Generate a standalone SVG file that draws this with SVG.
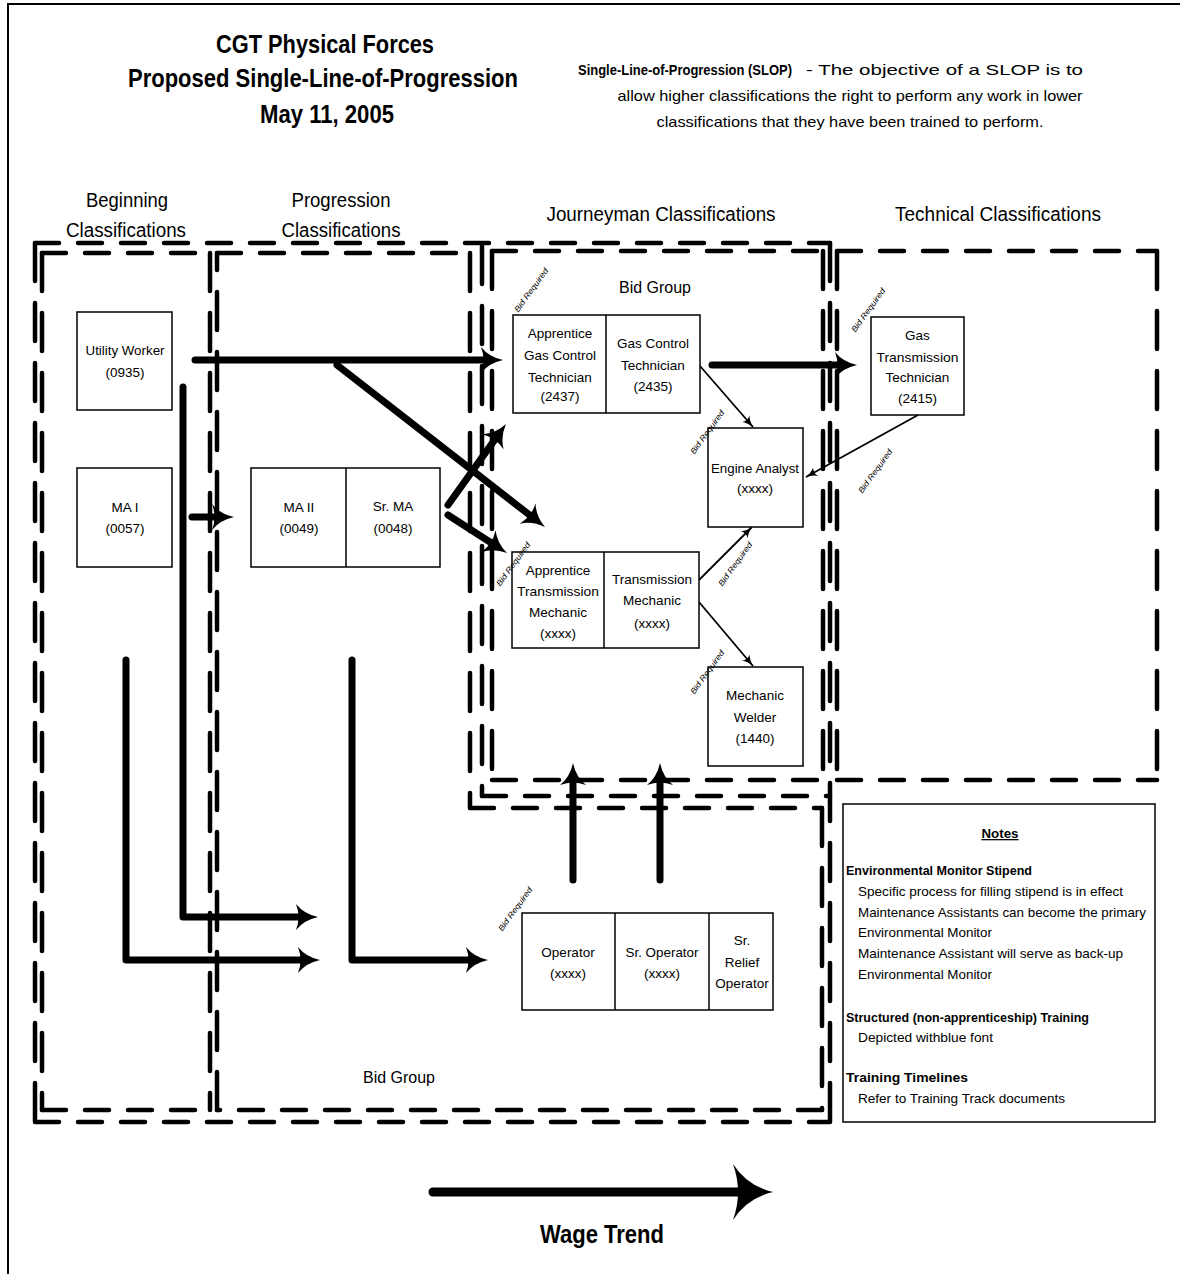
<svg xmlns="http://www.w3.org/2000/svg" width="1180" height="1274" viewBox="0 0 1180 1274">
<style>
text{font-family:"Liberation Sans",Arial,sans-serif;fill:#000}
.t{font-size:25px;font-weight:bold;text-anchor:middle}
.h{font-size:20px;text-anchor:middle}
.n{font-size:13.5px;text-anchor:middle}
.nb{font-size:13px}
.b{font-weight:bold}
.br{font-size:8px;font-style:italic;text-anchor:middle}
.box{fill:#fff;stroke:#000;stroke-width:1.5}
.dv,.dh{fill:none;stroke:#000;stroke-width:4.5;stroke-linecap:round}
.dh{stroke-dasharray:24 19}
.dv{stroke-dasharray:38 22}
.thick{fill:none;stroke:#000;stroke-width:7;stroke-linecap:round;stroke-linejoin:round;marker-end:url(#ah)}
.thin{fill:none;stroke:#000;stroke-width:1.8;marker-end:url(#ahs)}
</style>
<defs>
<marker id="ah" viewBox="0 0 22 26" markerWidth="22" markerHeight="26" refX="9" refY="13" orient="auto" markerUnits="userSpaceOnUse"><path d="M0,0 Q8,10 22,13 Q8,16 0,26 Q5,13 0,0 Z" fill="#000"/></marker>
<marker id="ahs" viewBox="0 0 12 10" markerWidth="12" markerHeight="10" refX="11" refY="5" orient="auto" markerUnits="userSpaceOnUse"><path d="M0,0 Q4,4 12,5 Q4,6 0,10 Q3,5 0,0 Z" fill="#000"/></marker>
<marker id="ahw" viewBox="0 0 40 56" markerWidth="40" markerHeight="56" refX="14" refY="28" orient="auto" markerUnits="userSpaceOnUse"><path d="M0,0 Q14,22 40,28 Q14,34 0,56 Q10,28 0,0 Z" fill="#000"/></marker>
</defs>
<rect width="1180" height="1274" fill="#fff"/>
<path d="M8,1274 V4 H1180" fill="none" stroke="#000" stroke-width="2"/>

<g id="title">
<text class="t" x="325" y="53" textLength="218" lengthAdjust="spacingAndGlyphs">CGT Physical Forces</text>
<text class="t" x="323" y="87" textLength="390" lengthAdjust="spacingAndGlyphs">Proposed Single-Line-of-Progression</text>
<text class="t" x="327" y="123" textLength="134" lengthAdjust="spacingAndGlyphs">May 11, 2005</text>
</g>
<g id="slop" font-size="15">
<text x="578" y="75" font-weight="bold" textLength="214" lengthAdjust="spacingAndGlyphs">Single-Line-of-Progression (SLOP)</text>
<text x="806" y="75" textLength="277" lengthAdjust="spacingAndGlyphs">- The objective of a SLOP is to</text>
<text x="850" y="101" text-anchor="middle" textLength="465" lengthAdjust="spacingAndGlyphs">allow higher classifications the right to perform any work in lower</text>
<text x="850" y="127" text-anchor="middle" textLength="387" lengthAdjust="spacingAndGlyphs">classifications that they have been trained to perform.</text>
</g>
<g id="headers">
<text class="h" x="127" y="207" textLength="82" lengthAdjust="spacingAndGlyphs">Beginning</text>
<text class="h" x="126" y="237" textLength="120" lengthAdjust="spacingAndGlyphs">Classifications</text>
<text class="h" x="341" y="207" textLength="99" lengthAdjust="spacingAndGlyphs">Progression</text>
<text class="h" x="341" y="237" textLength="119" lengthAdjust="spacingAndGlyphs">Classifications</text>
<text class="h" x="661" y="221" textLength="229" lengthAdjust="spacingAndGlyphs">Journeyman Classifications</text>
<text class="h" x="998" y="221" textLength="206" lengthAdjust="spacingAndGlyphs">Technical Classifications</text>
</g>

<g id="groups">
<line class="dh" x1="35" y1="243" x2="830" y2="243"/>
<line class="dv" x1="35" y1="243" x2="35" y2="1122"/>
<line class="dh" x1="35" y1="1122" x2="830" y2="1122"/>
<line class="dv" x1="830" y1="243" x2="830" y2="1122"/>
<line class="dh" x1="42" y1="253" x2="210" y2="253"/>
<line class="dv" x1="42" y1="253" x2="42" y2="1110"/>
<line class="dh" x1="42" y1="1110" x2="210" y2="1110"/>
<line class="dv" x1="210" y1="253" x2="210" y2="1110"/>
<path class="dh" d="M217,253 H470"/>
<path class="dv" d="M470,253 V808"/>
<path class="dh" d="M470,808 H822"/>
<path class="dv" d="M822,808 V1110"/>
<path class="dh" d="M822,1110 H217"/>
<path class="dv" d="M217,1110 V253"/>
<path class="dv" d="M482,246 V796"/>
<path class="dh" d="M482,796 H830"/>
<line class="dh" x1="492" y1="251" x2="823" y2="251"/>
<line class="dv" x1="492" y1="251" x2="492" y2="780"/>
<line class="dh" x1="492" y1="780" x2="823" y2="780"/>
<line class="dv" x1="823" y1="251" x2="823" y2="780"/>
<line class="dh" x1="837" y1="251" x2="1157" y2="251"/>
<line class="dv" x1="837" y1="251" x2="837" y2="780"/>
<line class="dh" x1="837" y1="780" x2="1157" y2="780"/>
<line class="dv" x1="1157" y1="251" x2="1157" y2="780"/>
<text x="655" y="293" font-size="16" text-anchor="middle">Bid Group</text>
<text x="399" y="1083" font-size="16" text-anchor="middle">Bid Group</text>
</g>

<g id="connectors">
<path class="thick" d="M195,360 H490"/>
<path class="thick" d="M337,365 L534.7,519"/>
<path class="thick" d="M192,517 H221"/>
<path class="thick" d="M448,505 L498.4,434.6"/>
<path class="thick" d="M448,515 L496.1,546"/>
<path class="thick" d="M712,365 H844"/>
<path class="thick" d="M183,387 V917 H305"/>
<path class="thick" d="M126,660 V960 H307"/>
<path class="thick" d="M352,660 V960 H475"/>
<path class="thick" d="M573,880 V776"/>
<path class="thick" d="M660,880 V776"/>
<path class="thin" d="M700,366 L753,427"/>
<path class="thin" d="M918,415 L806,477"/>
<path class="thin" d="M699,580 L752,527"/>
<path class="thin" d="M699,602 L753,666"/>
</g>

<g id="n-utility">
<rect class="box" x="77" y="312" width="95" height="98"/>
<text class="n" x="125" y="355" textLength="79" lengthAdjust="spacingAndGlyphs">Utility Worker</text>
<text class="n" x="125" y="377">(0935)</text>
</g>
<g id="n-ma1">
<rect class="box" x="77" y="468" width="95" height="99"/>
<text class="n" x="125" y="512">MA I</text>
<text class="n" x="125" y="533">(0057)</text>
</g>
<g id="n-ma2">
<rect class="box" x="251" y="468" width="189" height="99"/>
<line x1="346" y1="468" x2="346" y2="567" stroke="#000" stroke-width="1.5"/>
<text class="n" x="299" y="512">MA II</text>
<text class="n" x="299" y="533">(0049)</text>
<text class="n" x="393" y="511" font-size="11">Sr. MA</text>
<text class="n" x="393" y="533">(0048)</text>
</g>
<g id="n-gasctl">
<rect class="box" x="513" y="315" width="187" height="98"/>
<line x1="606" y1="315" x2="606" y2="413" stroke="#000" stroke-width="1.5"/>
<text class="n" x="560" y="338">Apprentice</text>
<text class="n" x="560" y="360">Gas Control</text>
<text class="n" x="560" y="382">Technician</text>
<text class="n" x="560" y="401">(2437)</text>
<text class="n" x="653" y="348">Gas Control</text>
<text class="n" x="653" y="370">Technician</text>
<text class="n" x="653" y="391">(2435)</text>
</g>
<g id="n-engine">
<rect class="box" x="708" y="428" width="95" height="99"/>
<text class="n" x="755" y="473" textLength="88" lengthAdjust="spacingAndGlyphs">Engine Analyst</text>
<text class="n" x="755" y="493">(xxxx)</text>
</g>
<g id="n-trans">
<rect class="box" x="512" y="552" width="187" height="96"/>
<line x1="604" y1="552" x2="604" y2="648" stroke="#000" stroke-width="1.5"/>
<text class="n" x="558" y="575">Apprentice</text>
<text class="n" x="558" y="596" textLength="82" lengthAdjust="spacingAndGlyphs">Transmission</text>
<text class="n" x="558" y="617">Mechanic</text>
<text class="n" x="558" y="638">(xxxx)</text>
<text class="n" x="652" y="584" textLength="80" lengthAdjust="spacingAndGlyphs">Transmission</text>
<text class="n" x="652" y="605">Mechanic</text>
<text class="n" x="652" y="628">(xxxx)</text>
</g>
<g id="n-welder">
<rect class="box" x="708" y="667" width="95" height="99"/>
<text class="n" x="755" y="700">Mechanic</text>
<text class="n" x="755" y="722">Welder</text>
<text class="n" x="755" y="743">(1440)</text>
</g>
<g id="n-gastrans">
<rect class="box" x="871" y="317" width="93" height="98"/>
<text class="n" x="917.5" y="340">Gas</text>
<text class="n" x="917.5" y="362" textLength="82" lengthAdjust="spacingAndGlyphs">Transmission</text>
<text class="n" x="917.5" y="382">Technician</text>
<text class="n" x="917.5" y="403">(2415)</text>
</g>
<g id="n-operators">
<rect class="box" x="522" y="913" width="251" height="97"/>
<line x1="615" y1="913" x2="615" y2="1010" stroke="#000" stroke-width="1.5"/>
<line x1="709" y1="913" x2="709" y2="1010" stroke="#000" stroke-width="1.5"/>
<text class="n" x="568" y="957">Operator</text>
<text class="n" x="568" y="978">(xxxx)</text>
<text class="n" x="662" y="957" textLength="73" lengthAdjust="spacingAndGlyphs">Sr. Operator</text>
<text class="n" x="662" y="978">(xxxx)</text>
<text class="n" x="742" y="945">Sr.</text>
<text class="n" x="742" y="967">Relief</text>
<text class="n" x="742" y="988">Operator</text>
</g>

<g id="bid-labels">
<text class="br" transform="translate(531,290) rotate(-54)" y="3" textLength="52" lengthAdjust="spacingAndGlyphs">Bid Required</text>
<text class="br" transform="translate(707,432) rotate(-54)" y="3" textLength="52" lengthAdjust="spacingAndGlyphs">Bid Required</text>
<text class="br" transform="translate(868,310) rotate(-54)" y="3" textLength="52" lengthAdjust="spacingAndGlyphs">Bid Required</text>
<text class="br" transform="translate(875,471) rotate(-54)" y="3" textLength="52" lengthAdjust="spacingAndGlyphs">Bid Required</text>
<text class="br" transform="translate(513,564) rotate(-54)" y="3" textLength="52" lengthAdjust="spacingAndGlyphs">Bid Required</text>
<text class="br" transform="translate(735,564) rotate(-54)" y="3" textLength="52" lengthAdjust="spacingAndGlyphs">Bid Required</text>
<text class="br" transform="translate(707,672) rotate(-54)" y="3" textLength="52" lengthAdjust="spacingAndGlyphs">Bid Required</text>
<text class="br" transform="translate(515,909) rotate(-54)" y="3" textLength="52" lengthAdjust="spacingAndGlyphs">Bid Required</text>
</g>

<g id="notes">
<rect class="box" x="843" y="804" width="312" height="318"/>
<text class="nb b" x="1000" y="838" text-anchor="middle" text-decoration="underline" textLength="37" lengthAdjust="spacingAndGlyphs">Notes</text>
<text class="nb b" x="846" y="875" textLength="186" lengthAdjust="spacingAndGlyphs">Environmental Monitor Stipend</text>
<text class="nb" x="858" y="896" textLength="265" lengthAdjust="spacingAndGlyphs">Specific process for filling stipend is in effect</text>
<text class="nb" x="858" y="917" textLength="288" lengthAdjust="spacingAndGlyphs">Maintenance Assistants can become the primary</text>
<text class="nb" x="858" y="937" textLength="134" lengthAdjust="spacingAndGlyphs">Environmental Monitor</text>
<text class="nb" x="858" y="958" textLength="265" lengthAdjust="spacingAndGlyphs">Maintenance Assistant will serve as back-up</text>
<text class="nb" x="858" y="979" textLength="134" lengthAdjust="spacingAndGlyphs">Environmental Monitor</text>
<text class="nb b" x="846" y="1022" textLength="243" lengthAdjust="spacingAndGlyphs">Structured (non-apprenticeship) Training</text>
<text class="nb" x="858" y="1042" textLength="135" lengthAdjust="spacingAndGlyphs">Depicted withblue font</text>
<text class="nb b" x="846" y="1082" textLength="122" lengthAdjust="spacingAndGlyphs">Training Timelines</text>
<text class="nb" x="858" y="1103" textLength="207" lengthAdjust="spacingAndGlyphs">Refer to Training Track documents</text>
</g>

<g id="wage">
<path d="M433,1192 H747" fill="none" stroke="#000" stroke-width="9" stroke-linecap="round" marker-end="url(#ahw)"/>
<text x="602" y="1243" font-size="26" font-weight="bold" text-anchor="middle" textLength="124" lengthAdjust="spacingAndGlyphs">Wage Trend</text>
</g>
</svg>
